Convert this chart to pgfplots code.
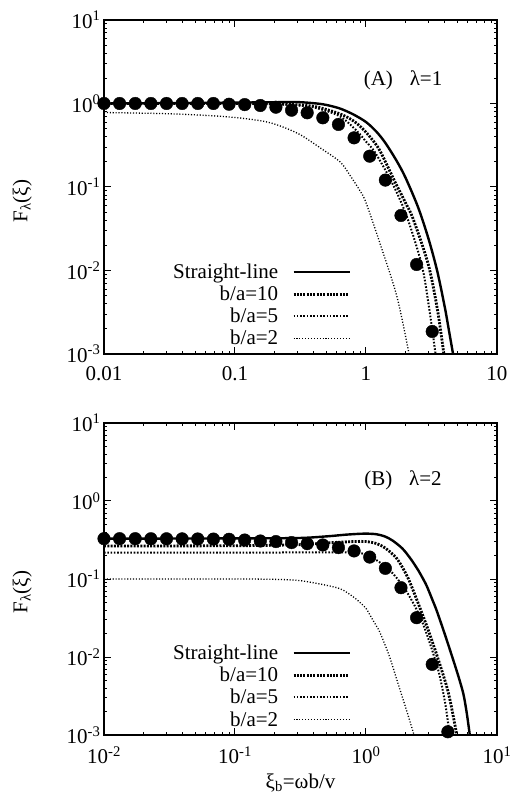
\documentclass[border=0pt]{standalone}
\usepackage{fontspec}
\setmainfont{Liberation Serif}
\usepackage{pgfplots}
\usepackage{pgfplotstable}
\pgfplotsset{compat=1.18}

% ---------- data, panel A (lambda = 1) ----------
\pgfplotstableread{
x y
0.01 1.0
0.03 1.01
0.1 1.025
0.2 1.035
0.3 1.04
0.42 1.0
0.5 0.96
0.634 0.87
0.8 0.74
1.0 0.60
1.2 0.46
1.4 0.34
1.7 0.21
2.0 0.13
2.5 0.057
3.0 0.024
3.5 0.0098
4.0 0.0036
4.3 0.0019
4.62 0.001
}\solidA
\pgfplotstableread{
x y
0.01 1.0
0.1 1.0
0.2 0.99
0.3 0.965
0.42 0.91
0.634 0.75
0.8 0.62
0.94 0.50
1.1 0.38
1.28 0.27
1.665 0.115
2.0 0.065
2.296 0.041
2.99 0.0118
3.5 0.0035
3.89 0.00113
3.92 0.001
}\tenA
\pgfplotstableread{
x y
0.01 1.0
0.1 0.995
0.2 0.98
0.3 0.95
0.42 0.88
0.634 0.70
0.85 0.47
1.0 0.35
1.171 0.26
1.571 0.115
2.045 0.0447
2.66 0.0118
3.0 0.0040
3.36 0.00113
3.38 0.001
}\fiveA
\pgfplotstableread{
x y
0.01 0.78
0.03 0.755
0.06 0.72
0.1 0.68
0.164 0.614
0.22 0.54
0.313 0.425
0.446 0.295
0.634 0.20
0.75 0.14
0.9 0.09
1.0 0.065
1.28 0.021
1.715 0.0050
2.1 0.00113
2.12 0.001
}\twoA
\pgfplotstableread{
x y
0.01 1.0
0.013156 1.0
0.017318 1.0
0.022803 1.0
0.030006 1.0
0.039500 1.0
0.051976 1.0
0.068408 1.0
0.090081 0.98
0.11857 0.97
0.15603 0.946
0.20535 0.903
0.27027 0.831
0.35573 0.774
0.46827 0.674
0.61632 0.561
0.81106 0.388
1.0676 0.234
1.4057 0.121
1.8497 0.0456
2.4338 0.0118
3.2033 0.00186
}\dotsA

% ---------- data, panel B (lambda = 2) ----------
\pgfplotstableread{
x y
0.01 0.33
0.03 0.33
0.1 0.332
0.3 0.335
0.5 0.352
0.7 0.37
0.9 0.38
1.0 0.382
1.2 0.375
1.4 0.35
1.6 0.31
1.9 0.245
2.2 0.18
2.5 0.13
2.74 0.099
2.91 0.0813
3.2 0.055
3.47 0.039
4.0 0.0195
4.63 0.0092
5.1 0.0055
5.53 0.0034
5.8 0.0022
6.0 0.0015
6.2 0.001
}\solidB
\pgfplotstableread{
x y
0.01 0.265
0.1 0.267
0.3 0.275
0.5 0.29
0.8 0.302
1.0 0.302
1.2 0.285
1.4 0.25
1.71 0.185
2.0 0.12
2.23 0.08
2.91 0.025
3.56 0.0093
4.25 0.0035
4.9 0.00107
4.93 0.001
}\tenB
\pgfplotstableread{
x y
0.01 0.218
0.1 0.218
0.3 0.219
0.6 0.22
0.85 0.218
1.0 0.205
1.2 0.175
1.55 0.125
2.03 0.07
2.67 0.029
3.5 0.0075
4.0 0.0027
4.35 0.001
}\fiveB
\pgfplotstableread{
x y
0.01 0.1
0.1 0.1
0.2 0.099
0.3 0.096
0.42 0.088
0.634 0.075
0.8 0.059
0.9 0.05
1.0 0.042
1.1 0.032
1.2 0.025
1.28 0.0205
1.5 0.0105
1.714 0.0052
2.0 0.0023
2.3 0.00107
2.33 0.001
}\twoB
\pgfplotstableread{
x y
0.01 0.329
0.013156 0.329
0.017318 0.329
0.022803 0.328
0.030006 0.328
0.039500 0.327
0.051976 0.326
0.068408 0.325
0.090081 0.323
0.11857 0.316
0.15603 0.307
0.20535 0.302
0.27027 0.293
0.35573 0.284
0.46827 0.273
0.61632 0.253
0.81106 0.229
1.0676 0.191
1.4057 0.137
1.8497 0.0774
2.4338 0.0319
3.2033 0.00805
4.2170 0.0011
}\dotsB

\tikzset{
  lnStraight/.style={black, line width=2.4pt, smooth},
  lnTen/.style={black, line width=2.8pt, dash pattern=on 2pt off 1.3pt, smooth},
  lnFive/.style={black, line width=2pt, dash pattern=on 1.6pt off 1.7pt, smooth},
  lnTwo/.style={black, line width=1.3pt, dash pattern=on 1.1pt off 1.8pt, smooth},
}
\newcommand{\bigfont}{\fontsize{21}{24}\selectfont}

\begin{document}
\begin{tikzpicture}
\path[use as bounding box] (0,0) rectangle (511pt,802pt);

\begin{axis}[
  xmode=log, ymode=log, scale only axis, width=393pt, height=334pt,
  at={(104pt,448pt)}, anchor=south west,
  xmin=0.01, xmax=10, ymin=0.001, ymax=10,
  xtick={0.01,0.1,1,10}, ytick={0.001,0.01,0.1,1,10},
  xticklabels={0.01,0.1,1,10},
  yticklabels={10\textsuperscript{-3},10\textsuperscript{-2},10\textsuperscript{-1},10\textsuperscript{0},10\textsuperscript{1}},
  tick align=inside, major tick length=7pt,
  axis line style={line width=1.2pt},
  tick style={black, line width=1pt},
  tick label style={font=\bigfont},
  xticklabel style={yshift=-9pt},
  ylabel={F\textsubscript{λ}(ξ)},
  ylabel style={font=\bigfont, at={(axis description cs:-0.208,0.458)}, anchor=center},
  legend plot pos=right,
  legend cell align=right,
  legend image code/.code={\path (0pt,0pt); \draw[#1] (12pt,0pt) -- (68pt,0pt);},
  legend style={draw=none, fill=none, inner sep=0pt, outer sep=0pt,
    font=\bigfont, row sep=2pt, at={(0.6285,0.0165)}, anchor=south east},
  ]
\addplot[lnStraight] table {\solidA};
\addlegendentry{Straight-line}
\addplot[lnTen] table {\tenA};
\addlegendentry{b/a=10}
\addplot[lnFive] table {\fiveA};
\addlegendentry{b/a=5}
\addplot[lnTwo] table {\twoA};
\addlegendentry{b/a=2}
\addplot[black, only marks, mark=*, mark size=6.3pt, forget plot] table {\dotsA};
\node[font=\bigfont] at (rel axis cs:0.761,0.82) {(A)\hspace{0.8em}λ=1};
\end{axis}

\begin{axis}[
  xmode=log, ymode=log, scale only axis, width=393pt, height=312pt,
  at={(104pt,67pt)}, anchor=south west,
  xmin=0.01, xmax=10, ymin=0.001, ymax=10,
  xtick={0.01,0.1,1,10}, ytick={0.001,0.01,0.1,1,10},
  xticklabels={10\textsuperscript{-2},10\textsuperscript{-1},10\textsuperscript{0},10\textsuperscript{1}},
  yticklabels={10\textsuperscript{-3},10\textsuperscript{-2},10\textsuperscript{-1},10\textsuperscript{0},10\textsuperscript{1}},
  tick align=inside, major tick length=7pt,
  axis line style={line width=1.2pt},
  tick style={black, line width=1pt},
  tick label style={font=\bigfont},
  xticklabel style={yshift=-8pt},
  ylabel={F\textsubscript{λ}(ξ)},
  ylabel style={font=\bigfont, at={(axis description cs:-0.208,0.458)}, anchor=center},
  xlabel={ξ\textsubscript{b}=ωb/v},
  xlabel style={font=\bigfont, at={(axis description cs:0.5,-0.154)}, anchor=center},
  legend plot pos=right,
  legend cell align=right,
  legend image code/.code={\path (0pt,0pt); \draw[#1] (12pt,0pt) -- (68pt,0pt);},
  legend style={draw=none, fill=none, inner sep=0pt, outer sep=0pt,
    font=\bigfont, row sep=2pt, at={(0.6285,0.0176)}, anchor=south east},
  ]
\addplot[lnStraight] table {\solidB};
\addlegendentry{Straight-line}
\addplot[lnTen] table {\tenB};
\addlegendentry{b/a=10}
\addplot[lnFive] table {\fiveB};
\addlegendentry{b/a=5}
\addplot[lnTwo] table {\twoB};
\addlegendentry{b/a=2}
\addplot[black, only marks, mark=*, mark size=6.3pt, forget plot] table {\dotsB};
\node[font=\bigfont] at (rel axis cs:0.761,0.817) {(B)\hspace{0.8em}λ=2};
\end{axis}
\end{tikzpicture}
\end{document}
